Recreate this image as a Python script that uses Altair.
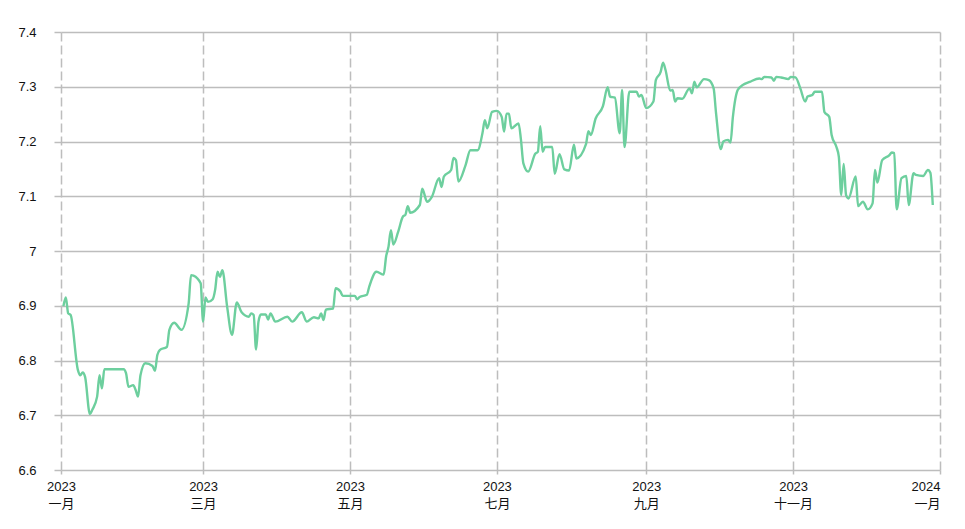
import altair as alt
import pandas as pd

dates = [
    "2023-01-02", "2023-01-03", "2023-01-04", "2023-01-05", "2023-01-08", "2023-01-09",
    "2023-01-10", "2023-01-11", "2023-01-13", "2023-01-14", "2023-01-16", "2023-01-17",
    "2023-01-18", "2023-01-19", "2023-01-27", "2023-01-28", "2023-01-29", "2023-01-31",
    "2023-02-01", "2023-02-02", "2023-02-03", "2023-02-05", "2023-02-08", "2023-02-09",
    "2023-02-10", "2023-02-11", "2023-02-14", "2023-02-15", "2023-02-17", "2023-02-20",
    "2023-02-23", "2023-02-24", "2023-02-25", "2023-02-28", "2023-03-01", "2023-03-02",
    "2023-03-03", "2023-03-05", "2023-03-06", "2023-03-07", "2023-03-08", "2023-03-09",
    "2023-03-11", "2023-03-13", "2023-03-15", "2023-03-17", "2023-03-20", "2023-03-21",
    "2023-03-22", "2023-03-23", "2023-03-24", "2023-03-25", "2023-03-27", "2023-03-28",
    "2023-03-29", "2023-03-31", "2023-04-05", "2023-04-07", "2023-04-11", "2023-04-13",
    "2023-04-16", "2023-04-18", "2023-04-19", "2023-04-20", "2023-04-21", "2023-04-24",
    "2023-04-25", "2023-04-27", "2023-04-28", "2023-05-03", "2023-05-04", "2023-05-05",
    "2023-05-08", "2023-05-09", "2023-05-12", "2023-05-15", "2023-05-16", "2023-05-17",
    "2023-05-18", "2023-05-19", "2023-05-21", "2023-05-23", "2023-05-24", "2023-05-25",
    "2023-05-26", "2023-05-30", "2023-05-31", "2023-06-02", "2023-06-04", "2023-06-07",
    "2023-06-08", "2023-06-09", "2023-06-12", "2023-06-13", "2023-06-14", "2023-06-15",
    "2023-06-18", "2023-06-20", "2023-06-23", "2023-06-25", "2023-06-26", "2023-06-27",
    "2023-06-29", "2023-07-01", "2023-07-03", "2023-07-04", "2023-07-05", "2023-07-06",
    "2023-07-07", "2023-07-10", "2023-07-11", "2023-07-12", "2023-07-14", "2023-07-17",
    "2023-07-18", "2023-07-19", "2023-07-20", "2023-07-21", "2023-07-24", "2023-07-25",
    "2023-07-27", "2023-07-29", "2023-07-31", "2023-08-02", "2023-08-03", "2023-08-07",
    "2023-08-08", "2023-08-09", "2023-08-11", "2023-08-14", "2023-08-16", "2023-08-17",
    "2023-08-19", "2023-08-21", "2023-08-22", "2023-08-23", "2023-08-25", "2023-08-28",
    "2023-08-29", "2023-08-30", "2023-09-01", "2023-09-04", "2023-09-05", "2023-09-07",
    "2023-09-08", "2023-09-09", "2023-09-11", "2023-09-12", "2023-09-13", "2023-09-14",
    "2023-09-16", "2023-09-19", "2023-09-20", "2023-09-21", "2023-09-22", "2023-09-25",
    "2023-09-27", "2023-09-29", "2023-09-30", "2023-10-02", "2023-10-03", "2023-10-05",
    "2023-10-06", "2023-10-07", "2023-10-09", "2023-10-11", "2023-10-14", "2023-10-18",
    "2023-10-19", "2023-10-20", "2023-10-23", "2023-10-24", "2023-10-25", "2023-10-27",
    "2023-10-30", "2023-10-31", "2023-11-02", "2023-11-04", "2023-11-06", "2023-11-07",
    "2023-11-09", "2023-11-10", "2023-11-13", "2023-11-14", "2023-11-16", "2023-11-17",
    "2023-11-19", "2023-11-20", "2023-11-21", "2023-11-22", "2023-11-23", "2023-11-24",
    "2023-11-27", "2023-11-28", "2023-11-30", "2023-12-02", "2023-12-04", "2023-12-05",
    "2023-12-06", "2023-12-08", "2023-12-11", "2023-12-12", "2023-12-13", "2023-12-14",
    "2023-12-16", "2023-12-18", "2023-12-19", "2023-12-21", "2023-12-22", "2023-12-25",
    "2023-12-27", "2023-12-28", "2023-12-29",
]

rates = [
    6.899, 6.915, 6.886, 6.883, 6.783, 6.773,
    6.778, 6.770, 6.702, 6.710, 6.734, 6.773,
    6.749, 6.784, 6.784, 6.777, 6.752, 6.755,
    6.746, 6.734, 6.773, 6.795, 6.790, 6.781,
    6.810, 6.819, 6.825, 6.856, 6.869, 6.856,
    6.904, 6.956, 6.955, 6.941, 6.871, 6.915,
    6.907, 6.912, 6.929, 6.962, 6.953, 6.965,
    6.898, 6.847, 6.906, 6.888, 6.880, 6.886,
    6.883, 6.820, 6.871, 6.884, 6.884, 6.875,
    6.886, 6.871, 6.880, 6.871, 6.888, 6.871,
    6.879, 6.877, 6.886, 6.874, 6.893, 6.895,
    6.932, 6.926, 6.918, 6.918, 6.912, 6.916,
    6.920, 6.935, 6.962, 6.957, 6.990, 7.008,
    7.038, 7.012, 7.035, 7.063, 7.066, 7.082,
    7.070, 7.084, 7.114, 7.090, 7.099, 7.133,
    7.117, 7.136, 7.148, 7.170, 7.166, 7.127,
    7.157, 7.184, 7.184, 7.215, 7.239, 7.224,
    7.254, 7.256, 7.245, 7.218, 7.251, 7.251,
    7.224, 7.233, 7.203, 7.160, 7.145, 7.178,
    7.181, 7.228, 7.181, 7.190, 7.190, 7.141,
    7.177, 7.149, 7.147, 7.194, 7.169, 7.195,
    7.219, 7.212, 7.242, 7.264, 7.299, 7.282,
    7.280, 7.215, 7.294, 7.190, 7.291, 7.291,
    7.282, 7.285, 7.261, 7.273, 7.312, 7.327,
    7.344, 7.331, 7.293, 7.294, 7.273, 7.279,
    7.278, 7.297, 7.288, 7.309, 7.299, 7.314,
    7.312, 7.297, 7.252, 7.186, 7.200, 7.203,
    7.198, 7.245, 7.294, 7.303, 7.309, 7.315,
    7.314, 7.318, 7.317, 7.311, 7.318, 7.317,
    7.314, 7.318, 7.317, 7.297, 7.273, 7.282,
    7.285, 7.291, 7.291, 7.254, 7.245, 7.212,
    7.190, 7.172, 7.102, 7.159, 7.102, 7.096,
    7.136, 7.082, 7.090, 7.076, 7.087, 7.148,
    7.125, 7.166, 7.175, 7.180, 7.179, 7.076,
    7.133, 7.137, 7.084, 7.142, 7.139, 7.137,
    7.148, 7.143, 7.084,
]

y_ticks = [6.6, 6.7, 6.8, 6.9, 7.0, 7.1, 7.2, 7.3, 7.4]
x_tick_months = [(2023, 1), (2023, 3), (2023, 5), (2023, 7), (2023, 9), (2023, 11), (2024, 1)]
month_names = ["一月", "二月", "三月", "四月", "五月", "六月",
               "七月", "八月", "九月", "十月", "十一月", "十二月"]

df = pd.DataFrame({"date": [d + "T00:00:00" for d in dates], "rate": rates})

month_arr = "[" + ",".join("'" + m + "'" for m in month_names) + "]"
label_expr = f"[timeFormat(datum.value, '%Y'), {month_arr}[month(datum.value)]]"

FONT = "Liberation Sans, Arial, Noto Sans CJK SC, sans-serif"
GRID = "#bdbdbd"

x_axis = alt.Axis(
    values=[alt.DateTime(year=y, month=m, date=1) for y, m in x_tick_months],
    labelExpr=label_expr,
    grid=True,
    gridDash=[9, 4],
    gridColor=GRID,
    gridWidth=1.5,
    domain=False,
    ticks=True,
    tickSize=4,
    tickColor=GRID,
    tickWidth=1.5,
    labelPadding=6,
    labelFont=FONT,
    labelFontSize=13,
    labelColor="#111",
    labelLineHeight=17,
    labelAlign={"condition": {"test": "datum.value > datetime(2023, 11, 15)", "value": "right"}, "value": "center"},
    labelFlush=False,
    labelOverlap=False,
    title=None,
)

y_axis = alt.Axis(
    values=y_ticks,
    format="~g",
    grid=True,
    gridColor=GRID,
    gridWidth=1.5,
    domain=False,
    ticks=True,
    tickSize=7,
    tickColor=GRID,
    tickWidth=1.5,
    labelPadding=18,
    labelFont=FONT,
    labelFontSize=13,
    labelColor="#111",
    title=None,
)

chart = (
    alt.Chart(df)
    .mark_line(interpolate="monotone", strokeWidth=2.4, color="#6dcf9e")
    .encode(
        x=alt.X(
            "date:T",
            axis=x_axis,
            scale=alt.Scale(
                domain=[alt.DateTime(year=2023, month=1, date=1), alt.DateTime(year=2024, month=1, date=1)],
                nice=False,
            ),
        ),
        y=alt.Y("rate:Q", axis=y_axis, scale=alt.Scale(domain=[6.6, 7.4], nice=False, zero=False)),
    )
    .properties(
        width=879,
        height=438,
        autosize=alt.AutoSizeParams(type="none"),
        padding={"left": 61, "top": 32, "right": 25, "bottom": 59},
        background="white",
    )
    .configure_view(stroke=None)
)

chart.save("out.html", embed_options={"renderer": "svg", "actions": False})
